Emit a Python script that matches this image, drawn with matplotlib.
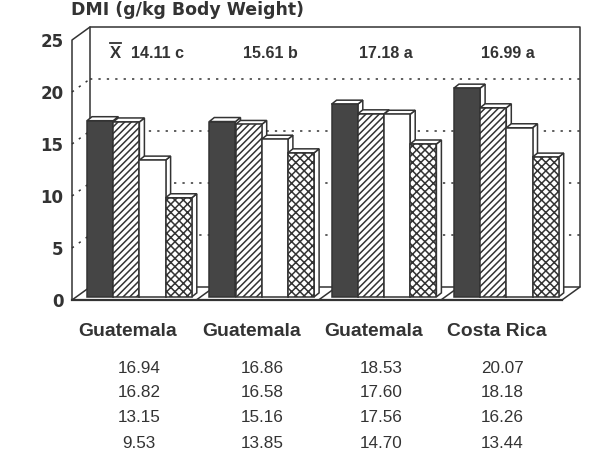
import matplotlib
matplotlib.use("Agg")
import matplotlib.pyplot as plt
from matplotlib.patches import Rectangle, Polygon

groups = ["Guatemala", "Guatemala", "Guatemala", "Costa Rica"]
series_a = [16.94, 16.86, 18.53, 20.07]
series_b = [16.82, 16.58, 17.60, 18.18]
series_c = [13.15, 15.16, 17.56, 16.26]
series_d = [9.53, 13.85, 14.70, 13.44]
means = ["14.11 c", "15.61 b", "17.18 a", "16.99 a"]
yticks = [0, 5, 10, 15, 20, 25]
title = "DMI (g/kg Body Weight)"

W, H = 600, 461
INK = "#333333"
plt.rcParams["hatch.linewidth"] = 1.1
fig = plt.figure(figsize=(6, 4.61), dpi=100)
L, R, B, T = 72, 580, 300, 27
ax = fig.add_axes([L / W, 1 - B / H, (R - L) / W, (B - T) / H])
ax.set_xlim(0, (R - L) / 26.2)
ax.set_ylim(0, (B - T) / 10.4)
for s in ax.spines.values():
    s.set_visible(False)
ax.set_xticks([])
ax.set_yticks(yticks, [str(v) for v in yticks], fontsize=12, fontweight="bold",
              family="DejaVu Sans", color=INK)
ax.tick_params(axis="y", length=0, pad=6)
ax.patch.set_alpha(0)

DX, DY = 18 / 26.2, 13 / 10.4   # wall depth in data units
dx, dy = 5 / 26.2, 4 / 10.4     # bar depth in data units
X1 = (R - L) / 26.2 - DX
TOP = 25
lw = 1.1
line = dict(color=INK, lw=lw, clip_on=False, solid_capstyle="round")

# back wall, side wall, floor
for v in yticks[1:-1]:
    ax.plot([DX, X1 + DX], [v + DY, v + DY], color=INK, lw=1.1, ls=(0, (1.5, 4)), zorder=1, clip_on=False)
    ax.plot([0, DX], [v, v + DY], color=INK, lw=1.1, ls=(0, (1.5, 4)), zorder=1, clip_on=False)
ax.plot([0, 0, DX, X1 + DX, X1 + DX, X1], [0, TOP, TOP + DY, TOP + DY, DY, 0], zorder=2, **line)
ax.plot([DX, DX], [TOP + DY, DY], zorder=2, **line)
ax.plot([DX, X1 + DX], [DY, DY], zorder=2, **line)
ax.plot([0, X1], [0, 0], zorder=2, lw=1.6, color=INK, clip_on=False)
ax.plot([0, DX], [0, DY], zorder=2, **line)

start, spacing = 15 / 26.2, 122.3 / 26.2
for g in range(1, 4):
    bx = g * spacing + start - 13 / 26.2
    ax.plot([bx, bx + DX], [0, DY], zorder=2, **line)

styles = [dict(facecolor="#454545", hatch=None),
          dict(facecolor="white", hatch="/////"),
          dict(facecolor="white", hatch=None),
          dict(facecolor="white", hatch="xxxx")]
base = 0.3
z = 3
for g in range(len(groups)):
    vals = [series_a[g], series_b[g], series_c[g], series_d[g]]
    for j, v in enumerate(vals):
        x = start + g * spacing + j
        y1 = base + v
        ax.add_patch(Polygon([(x + 1, base), (x + 1 + dx, base + dy), (x + 1 + dx, y1 + dy), (x + 1, y1)],
                             fc="white", ec=INK, lw=lw, zorder=z))
        ax.add_patch(Polygon([(x, y1), (x + dx, y1 + dy), (x + 1 + dx, y1 + dy), (x + 1, y1)],
                             fc="white", ec=INK, lw=lw, zorder=z))
        st = styles[j]
        ax.add_patch(Rectangle((x, base), 1, v, facecolor=st["facecolor"], edgecolor=INK,
                               hatch=st["hatch"], lw=lw, zorder=z + 1))
        z += 2

def px(x, y, s, **kw):
    fig.text(x / W, 1 - y / H, s, color=INK, va="center", **kw)

px(71, 10, title, fontsize=12.5, fontweight="bold", family="DejaVu Sans", ha="left")

mean_x = [158, 270, 386, 508]
for mx, m in zip(mean_x, means):
    px(mx, 53, m, fontsize=11.5, fontweight="bold", family="Liberation Sans", ha="center")
px(115, 53, "X", fontsize=12, fontweight="bold", family="Liberation Sans", ha="center")
fig.add_artist(plt.Line2D([110 / W, 121 / W], [1 - 43 / H, 1 - 43 / H], color=INK, lw=1.3))

label_x = [128, 252, 374, 497]
for lx, name in zip(label_x, groups):
    px(lx, 331, name, fontsize=13.9, fontweight="bold", family="Liberation Sans", ha="center")

table_x = [139, 262, 381, 502]
table_y = [368, 392, 417, 443]
for row, ry in zip([series_a, series_b, series_c, series_d], table_y):
    for tx, v in zip(table_x, row):
        px(tx, ry, f"{v:.2f}", fontsize=12.3, family="Liberation Sans", ha="center")

fig.savefig("out.png", dpi=100)
